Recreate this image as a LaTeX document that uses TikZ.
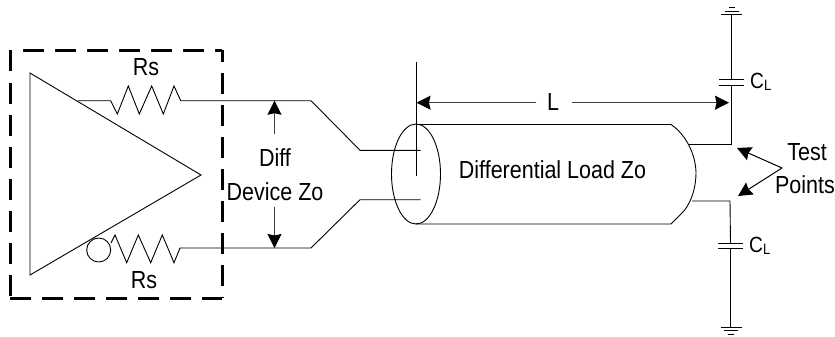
\documentclass[tikz,border=0pt]{standalone}
\usepackage{fontspec}
\setmainfont[FakeStretch=0.87]{Liberation Sans}
\usetikzlibrary{arrows.meta}
\tikzset{
  wire/.style={draw=black,line width=0.9pt,line join=miter},
  dimline/.style={draw=black!75,line width=1pt,-{Stealth[length=14pt,width=14pt,inset=1.5pt,color=black]}},
  frameline/.style={draw=black,line width=3pt,dash pattern=on 21pt off 11pt},
  lbl/.style={inner sep=0pt,font=\fontsize{24.7}{26}\selectfont,text=black},
  caplbl/.style={inner sep=0pt,font=\fontsize{22}{24}\selectfont,text=black}
}
\begin{document}
\begin{tikzpicture}[x=1pt,y=-1pt]
\useasboundingbox (0,0) rectangle (835,337);
% coordinates
\coordinate (fTL) at (10,50.5);
\coordinate (fTS) at (23,50.5);
\coordinate (fTR) at (222,50.5);
\coordinate (fBR) at (222,298);
\coordinate (fBL) at (10,298);
\coordinate (tA) at (30,73);
\coordinate (tB) at (30,275);
\coordinate (tC) at (201,175);
\coordinate (topOut) at (78,100.7);
\coordinate (topBend) at (311,100.7);
\coordinate (topIn) at (360,150.3);
\coordinate (topEnd) at (420.7,150.3);
\coordinate (botOut) at (180,248);
\coordinate (botBend) at (311,248);
\coordinate (botIn) at (360,199.7);
\coordinate (botEnd) at (420.7,199.7);
\coordinate (cylTop) at (416,124.5);
\coordinate (cylBot) at (416,224);
\coordinate (cylTopR) at (671,124.5);
\coordinate (cylBotR) at (671,224);
\coordinate (stubTop) at (731.6,144.3);
\coordinate (stubBot) at (730,201);
\coordinate (gndTop) at (731.6,14);
\coordinate (gndBot) at (730.5,327);
\coordinate (capT1) at (731.6,79);
\coordinate (capT2) at (731.6,85.5);
\coordinate (capB1) at (730.5,243);
\coordinate (capB2) at (730.5,248.7);
\coordinate (refTop) at (416,62);
\coordinate (refEnd) at (416,176);
\coordinate (diffTop) at (274.5,100.7);
\coordinate (diffBot) at (274.5,248);
\coordinate (ptSrc) at (782,168);
\coordinate (ptUp) at (737,148);
\coordinate (ptDn) at (738,196);
\coordinate (lEndL) at (416.5,102.7);
\coordinate (lEndR) at (729,102.7);
% frame
\draw[frameline] (fTL) -- (fBL);
\draw[frameline] (fTS) -- (fTR);
\draw[frameline,dash phase=9.5pt] (fTR) -- (fBR);
\draw[frameline] (fBL) -- (fBR);
% amplifier
\draw[wire] (tA) -- (tC) -- (tB) -- cycle;
\node[wire,circle,minimum size=24pt,inner sep=0pt] (bubble) at (98.7,250) {};
% top resistor and line
\draw[wire] (topOut) -- (110.7,100.7) -- (117.3,114) -- (128.3,86) -- (139.3,114) -- (151.7,86) -- (163.3,114) -- (174,86) -- (180.7,100.7) -- (topBend) -- (topIn) -- (topEnd);
% bottom resistor and line
\draw[wire] (111,243) -- (115,235) -- (126.7,262.7) -- (138.3,235) -- (150.7,262.7) -- (162.3,235) -- (174,262.7) -- (botOut) -- (botBend) -- (botIn) -- (botEnd);
% cable
\draw[wire] (416,174) ellipse [x radius=24.5, y radius=50];
\draw[wire] (cylTop) -- (cylTopR) .. controls (681,131) and (695,148) .. (696,172) .. controls (696,190) and (690,205) .. (682,213) -- (cylBotR) -- (cylBot);
\draw[wire] (refTop) -- (refEnd);
% capacitor branches
\draw[wire] (689,144.3) -- (stubTop) -- (capT2);
\draw[wire] (capT1) -- (gndTop);
\draw[wire] (719,79) -- (744,79);
\draw[wire] (719,85.5) -- (744,85.5);
\draw[wire] (721,14) -- (742,14);
\draw[wire] (725,11) -- (739,11);
\draw[wire] (729,7) -- (735,7);
\draw[wire] (692,201) -- (stubBot) -- (capB1);
\draw[wire] (capB2) -- (gndBot);
\draw[wire] (718,243) -- (743,243);
\draw[wire] (718,248.7) -- (743,248.7);
\draw[wire] (720.5,327) -- (741.5,327);
\draw[wire] (724,330.5) -- (737.5,330.5);
\draw[wire] (727.5,334.7) -- (734,334.7);
% labels
\node[lbl] (rsT) at (146,67) {Rs};
\node[lbl] (rsB) at (144,280.5) {Rs};
\node[lbl] (diff) at (275,158) {Diff};
\node[lbl] (dev) at (275,192) {Device Zo};
\node[lbl] (load) at (552.5,170) {Differential Load Zo};
\node[lbl] (len) at (553,102) {L};
\node[lbl] (test) at (807,152) {Test};
\node[lbl] (pts) at (805,185) {Points};
\node[caplbl,anchor=west] (cl1) at (750,82) {C\raisebox{-2pt}{\fontsize{15}{16}\selectfont L}};
\node[caplbl,anchor=west] (cl2) at (749,246) {C\raisebox{-2pt}{\fontsize{15}{16}\selectfont L}};
% dimension arrows
\draw[dimline] (274.5,134) -- (diffTop);
\draw[dimline] (274.5,207) -- (diffBot);
\draw[dimline] (536,102.7) -- (lEndL);
\draw[dimline] (572,102.7) -- (lEndR);
\draw[dimline,draw=black] (ptSrc) -- (ptUp);
\draw[dimline,draw=black] (ptSrc) -- (ptDn);
\end{tikzpicture}
\end{document}
